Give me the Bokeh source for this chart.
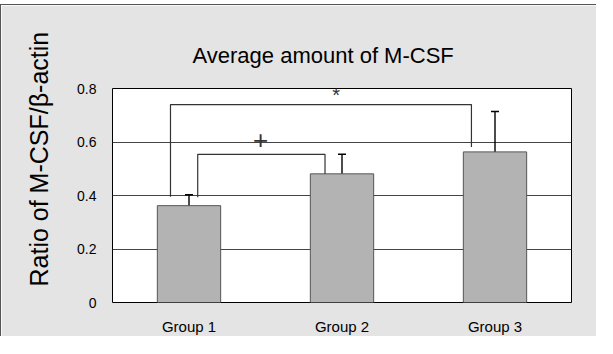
from bokeh.plotting import figure
from bokeh.models import ColumnDataSource, Whisker, TeeHead, FixedTicker, Range1d, Title, Spacer
from bokeh.layouts import column
from bokeh.core.properties import value
from bokeh.embed import file_html
from bokeh.resources import INLINE

categories = ["Group 1", "Group 2", "Group 3"]
means = [0.362, 0.481, 0.563]
err_upper = [0.403, 0.554, 0.714]
err_lower = [0.326, 0.392, 0.411]
y_ticks = [0, 0.2, 0.4, 0.6, 0.8]
y_tick_labels = ["0", "0.2", "0.4", "0.6", "0.8"]

# significance brackets (x in category units, y in ratio units)
bracket_x_left = [0.379, 0.557]
bracket_x_right = [2.346, 1.389]
bracket_top = [0.740, 0.554]
bracket_left_bottom = [0.395, 0.393]
bracket_right_bottom = [0.581, 0.481]
marks = ["*", "+"]
mark_x = [1.462, 0.968]
mark_y = [0.774, 0.608]
mark_sizes = ["20px", "26px"]

FONT = "Liberation Sans"
x_centers = [i + 0.5 for i in range(len(categories))]

p = figure(width=596, height=332, output_backend="svg", toolbar_location=None,
           x_range=Range1d(0, 3), y_range=Range1d(0, 0.8),
           min_border_left=108, min_border_right=26, min_border_top=83, min_border_bottom=29)
p.styles = {"border-top": "1px solid #555555", "border-left": "1px solid #555555"}

p.background_fill_color = "white"
p.border_fill_color = "#e4e4e4"
p.outline_line_color = "black"
p.outline_line_width = 1

p.title.text = "Average amount of M-CSF"
p.title.text_font = FONT
p.title.text_font_size = "22px"
p.title.text_font_style = "normal"
p.title.text_color = "black"
p.title.align = "left"
p.title.offset = 80
p.title.standoff = 42

# y-axis title as a side title
p.add_layout(Title(text="Ratio of M-CSF/\u03b2-actin", text_font=FONT, text_font_size="25px",
                   text_font_style="normal", text_color="black", align="left",
                   offset=16, standoff=43), "left")

# grid
p.xgrid.visible = False
p.ygrid.ticker = FixedTicker(ticks=y_ticks)
p.ygrid.grid_line_color = "#444444"
p.ygrid.grid_line_width = 1

# axes
p.yaxis.ticker = FixedTicker(ticks=y_ticks)
p.yaxis.major_label_overrides = {t: l for t, l in zip(y_ticks, y_tick_labels)}
p.xaxis.ticker = FixedTicker(ticks=x_centers)
p.xaxis.major_label_overrides = {x: c for x, c in zip(x_centers, categories)}
for ax in (p.xaxis, p.yaxis):
    ax.axis_line_color = None
    ax.major_tick_line_color = None
    ax.minor_tick_line_color = None
    ax.major_label_text_font = FONT
    ax.major_label_text_color = "black"
p.yaxis.major_label_text_font_size = "14px"
p.yaxis.major_label_standoff = 10
p.xaxis.major_label_text_font_size = "15px"
p.xaxis.major_label_standoff = 9

src = ColumnDataSource(dict(x=x_centers, top=means, upper=err_upper, lower=err_lower))
p.vbar(x="x", top="top", width=0.414, bottom=0, source=src,
       fill_color="#b3b3b3", line_color="#555555", line_width=1)

p.add_layout(Whisker(base="x", upper="upper", lower="lower", source=src,
                     line_color="black", line_width=1.4,
                     upper_head=TeeHead(size=8, line_color="black", line_width=1.4),
                     lower_head=TeeHead(size=8, line_color="black", line_width=1.4)))

xs = [[l, l, r, r] for l, r in zip(bracket_x_left, bracket_x_right)]
ys = [[lb, t, t, rb] for lb, t, rb in zip(bracket_left_bottom, bracket_top, bracket_right_bottom)]
p.multi_line(xs, ys, line_color="#333333", line_width=1.2)

p.text(x=mark_x, y=mark_y, text=marks, text_font=value(FONT), text_font_size=mark_sizes,
       text_align="center", text_baseline="middle", text_color="#333333")

layout = column(Spacer(height=4, width=597), p)
open("out.html", "w").write(file_html(layout, INLINE))
